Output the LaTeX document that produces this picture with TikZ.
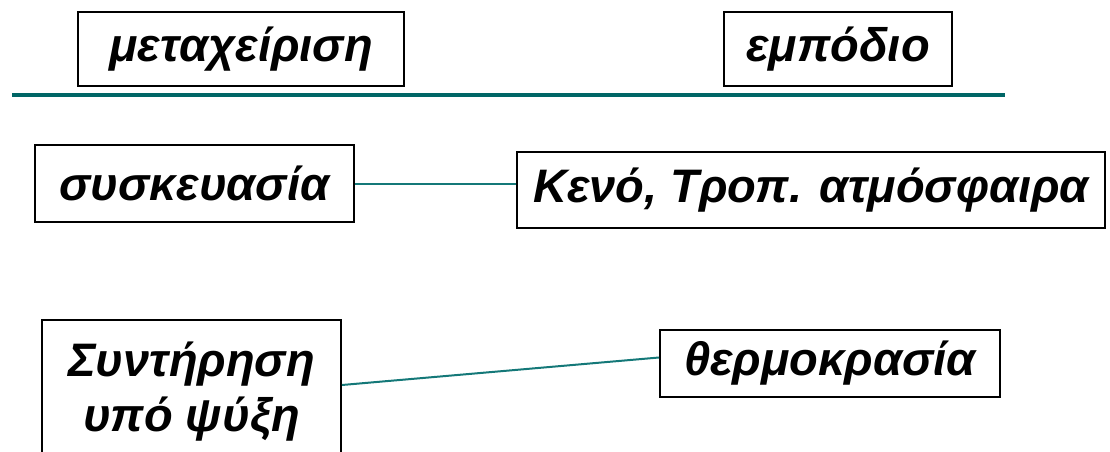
\documentclass[tikz,border=0pt]{standalone}
\usepackage{fontspec}
\setmainfont{Liberation Sans}
\usetikzlibrary{calc}
\definecolor{tealA}{RGB}{0,102,102}
\definecolor{tealB}{RGB}{20,120,120}
\begin{document}
\begin{tikzpicture}[x=1pt,y=-1pt,
  box/.style={draw=black,line width=2pt,fill=white,inner sep=0pt,
    font=\fontsize{47}{55}\selectfont\bfseries\itshape,align=center},
  link/.style={draw=tealB,line width=2pt}]
\useasboundingbox (0,0) rectangle (1110,452);
\node[box,minimum width=326pt,minimum height=74pt] (m) at (241,49) {μεταχείριση};
\node[box,minimum width=228pt,minimum height=74pt] (e) at (838,49) {εμπόδιο};
\coordinate (l1) at (12,95);
\coordinate (l2) at (1005,95);
\draw[tealA,line width=4pt] (l1) -- (l2);
\node[box,minimum width=319pt,minimum height=77pt] (s) at (194.5,183.5) {συσκευασία};
\node[box,minimum width=588pt,minimum height=76pt] (k) at (811,190) {Κενό, Τροπ. ατμόσφαιρα};
\node[box,minimum width=299pt,minimum height=144pt] (sy) at (191.5,392) {Συντήρηση\\υπό ψύξη};
\node[box,minimum width=340pt,minimum height=67pt] (t) at (830,363.5) {θερμοκρασία};
\draw[link] (s.east) -- (s.east -| k.west);
\draw[link] ($(sy.east)+(0,-7)$) -- ($(t.west)+(0,-6)$);
\end{tikzpicture}
\end{document}
